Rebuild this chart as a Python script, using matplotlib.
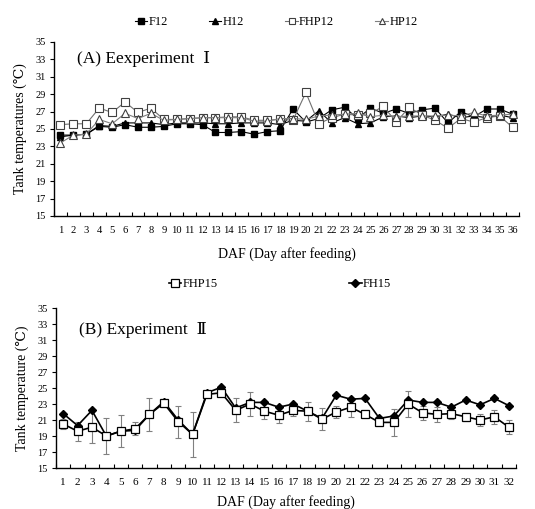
import matplotlib
matplotlib.use("Agg")
import matplotlib.pyplot as plt
import numpy as np
from matplotlib.ticker import FixedLocator, NullFormatter

plt.rcParams['font.family'] = ['Liberation Serif', 'DejaVu Serif', 'DejaVu Sans', 'Noto Sans CJK SC']

# ---------------- data: Experiment I ----------------
days_a = list(range(1, 37))
F12 = [24.3, 24.3, 24.4, 25.3, 25.2, 25.5, 25.2, 25.2, 25.3, 25.6, 25.6, 25.5,
       24.6, 24.6, 24.7, 24.4, 24.7, 24.8, 27.3, 25.8, 26.2, 27.2, 27.5, 26.2,
       27.4, 26.8, 27.3, 26.8, 27.2, 27.4, 25.7, 27.0, 26.4, 27.3, 27.3, 26.7]
H12 = [24.1, 24.3, 24.4, 25.4, 25.3, 25.7, 25.7, 25.7, 25.5, 25.7, 25.7, 25.7,
       25.6, 25.6, 25.7, 25.7, 25.7, 25.5, 26.0, 25.9, 27.1, 25.7, 26.3, 25.6,
       25.7, 26.4, 26.5, 26.3, 26.5, 26.4, 26.7, 26.3, 26.5, 26.3, 26.6, 26.3]
FHP12 = [25.5, 25.6, 25.6, 27.4, 26.9, 28.1, 26.9, 27.4, 26.1, 26.1, 26.2, 26.3,
         26.3, 26.4, 26.4, 26.0, 26.0, 26.1, 26.0, 29.2, 25.6, 26.3, 26.7, 26.6,
         26.8, 27.6, 25.8, 27.5, 26.6, 26.0, 25.1, 26.2, 25.8, 26.3, 26.5, 25.2]
HP12 = [23.4, 24.3, 24.4, 26.1, 25.6, 26.8, 26.2, 26.8, 26.0, 26.1, 26.2, 26.3,
        26.3, 26.3, 26.3, 25.9, 25.9, 26.2, 26.2, 26.1, 26.5, 26.6, 26.7, 26.8,
        26.4, 26.6, 26.4, 26.5, 26.5, 26.5, 26.6, 26.5, 26.9, 26.5, 26.6, 26.7]

# ---------------- data: Experiment II ----------------
days_b = list(range(1, 33))
FHP15 = [20.5, 19.6, 20.1, 19.0, 19.6, 19.9, 21.7, 23.1, 20.8, 19.2, 24.2, 24.4,
         22.2, 23.0, 22.1, 21.6, 22.2, 22.1, 21.1, 22.0, 22.6, 21.7, 20.7, 20.7,
         23.0, 21.9, 21.7, 21.8, 21.4, 21.0, 21.4, 20.1]
FHP15_err = [0.6, 1.2, 2.0, 2.2, 2.0, 0.8, 2.1, 0.5, 2.0, 2.8, 0.4, 0.4,
             1.5, 1.5, 1.0, 1.0, 0.7, 1.2, 1.4, 0.8, 1.2, 0.5, 0.4, 1.7,
             1.6, 0.9, 0.9, 0.7, 0.5, 0.7, 0.9, 0.9]
FH15 = [21.8, 20.3, 22.2, 19.0, 19.6, 19.7, 21.7, 23.3, 21.0, 19.2, 24.4, 25.1,
        22.5, 23.2, 23.2, 22.6, 23.0, 22.1, 21.2, 24.1, 23.6, 23.7, 21.2, 21.5,
        23.5, 23.2, 23.2, 22.6, 23.5, 22.9, 23.7, 22.8]

yticks = [15, 17, 19, 21, 23, 25, 27, 29, 31, 33, 35]

W, H = 535, 509
fig = plt.figure(figsize=(W / 100, H / 100), dpi=100)

def setup(ax, n, ylabel, xfs, xlpad):
    ax.set_xlim(0.5, n + 0.5)
    ax.set_ylim(15, 35)
    ax.spines['top'].set_visible(False)
    ax.spines['right'].set_visible(False)
    for s in ('left', 'bottom'):
        ax.spines[s].set_linewidth(1.0)
        ax.spines[s].set_color('black')
    ax.set_yticks(yticks)
    ax.set_yticklabels([str(v) for v in yticks], fontsize=7.5)
    ax.tick_params(axis='y', direction='out', length=3, width=0.8, pad=3)
    ax.set_xticks(range(1, n + 1))
    ax.set_xticklabels([str(d) for d in range(1, n + 1)], fontsize=xfs)
    ax.tick_params(axis='x', which='major', length=0, pad=7)
    ax.xaxis.set_minor_locator(FixedLocator(np.arange(0.5, n + 1, 1.0)))
    ax.xaxis.set_minor_formatter(NullFormatter())
    ax.tick_params(axis='x', which='minor', direction='in', length=3, width=0.8)
    ax.set_ylabel(ylabel, fontsize=10, labelpad=6)
    ax.set_xlabel('DAF (Day after feeding)', fontsize=10, labelpad=xlpad)

# ---------------- panel A ----------------
axA = fig.add_axes([54 / W, 1 - 216 / H, 465 / W, 174 / H])
setup(axA, 36, 'Tank temperatures (℃)', 7.6, 9)
lF, = axA.plot(days_a, F12, color='black', lw=0.8, marker='s', ms=4.3, mfc='black',
               mec='black', label='F12', zorder=4)
lH, = axA.plot(days_a, H12, color='black', lw=0.8, marker='^', ms=5, mfc='black',
               mec='black', label='H12', zorder=3)
lFHP, = axA.plot(days_a, FHP12, color='#707070', lw=0.8, marker='s', ms=5.5, mfc='white',
                 mec='#404040', mew=0.8, label='FHP12', zorder=5)
lHP, = axA.plot(days_a, HP12, color='#808080', lw=0.8, marker='^', ms=5.5, mfc='white',
                mec='#404040', mew=0.8, label='HP12', zorder=6)
axA.text(0.05, 0.905, '(A) Eexperiment  Ⅰ', transform=axA.transAxes, fontsize=12.5,
         ha='left', va='center')
fig.legend(handles=[lF, lH, lFHP, lHP], labels=['F12', 'H12', 'FHP12', 'HP12'],
           loc='center', bbox_to_anchor=(276 / W, 1 - 22 / H), ncol=4, frameon=False,
           fontsize=9, handlelength=1.0, handletextpad=0.1, columnspacing=3.3,
           markerscale=0.9)

# ---------------- panel B ----------------
axB = fig.add_axes([56 / W, 1 - 468 / H, 460 / W, 160 / H])
setup(axB, 32, 'Tank temperature (℃)', 8, 6)
axB.errorbar(days_b, FHP15, yerr=FHP15_err, fmt='none', ecolor='#808080',
             elinewidth=0.8, capsize=2, capthick=0.8, zorder=2)
lFHP15, = axB.plot(days_b, FHP15, color='black', lw=1.2, marker='s', ms=6, mfc='white',
                   mec='black', mew=0.9, label='FHP15', zorder=4)
lFH15, = axB.plot(days_b, FH15, color='black', lw=1.2, marker='D', ms=4, mfc='black',
                  mec='black', label='FH15', zorder=3)
axB.text(0.05, 0.865, '(B) Experiment  Ⅱ', transform=axB.transAxes, fontsize=12.5,
         ha='left', va='center')
fig.legend(handles=[lFHP15, lFH15], labels=['FHP15', 'FH15'],
           loc='center', bbox_to_anchor=(280 / W, 1 - 284 / H), ncol=2, frameon=False,
           fontsize=9, handlelength=1.0, handletextpad=0.1, columnspacing=10.5,
           markerscale=0.9)

fig.savefig('out.png', dpi=100)
